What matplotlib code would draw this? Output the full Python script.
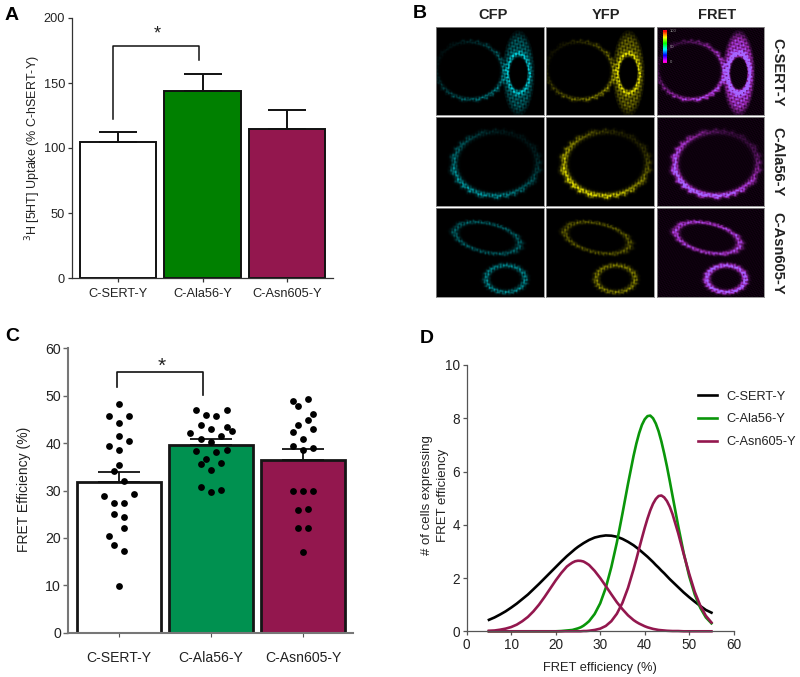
import numpy as np
import matplotlib
matplotlib.use('Agg')
import matplotlib.pyplot as plt

plt.rcParams['font.family'] = ['Liberation Sans', 'DejaVu Sans']
plt.rcParams['text.color'] = '#222222'
plt.rcParams['axes.labelcolor'] = '#222222'
plt.rcParams['xtick.labelcolor'] = '#222222'
plt.rcParams['ytick.labelcolor'] = '#222222'

W, H = 800, 677

names = ['C-SERT-Y', 'C-Ala56-Y', 'C-Asn605-Y']

# panel A
uptake = [105, 144, 115]
uptake_err = [7, 13, 14]
uptake_ticks = [0, 50, 100, 150, 200]

# panel C
fret_mean = [31.7, 39.7, 36.5]
fret_err = [2.3, 1.1, 2.2]
fret_ticks = [0, 10, 20, 30, 40, 50, 60]
sert_off = [0, -.112, .112, 0, 0, .112, -.112, 0, 0, -.056, .056, .168, -.168, -.056, .056, -.056, .056, .056, -.112, -.056, .056, 0]
sert_val = [48.25, 45.65, 45.65, 44.3, 41.6, 40.5, 39.3, 38.5, 35.45, 34.1, 31.9, 29.3, 28.8, 27.4, 27.4, 25.0, 24.5, 22.0, 20.5, 18.5, 17.2, 9.85]
ala_off = [-.167, .17, -.054, .058, -.112, .17, 0, .225, -.225, .112, -.112, 0, -.167, .17, .058, -.054, -.112, .112, 0, -.112, .112, 0]
ala_val = [47.05, 47.05, 45.85, 45.65, 43.8, 43.5, 43.0, 42.55, 42.1, 41.4, 40.8, 40.3, 38.3, 38.5, 38.05, 36.65, 35.65, 35.7, 34.4, 30.8, 30.2, 29.6]
asn_off = [-.112, -.056, .056, .112, .056, -.056, .112, -.112, 0, -.112, 0, .112, -.112, 0, .112, -.056, .056, -.056, .056, 0]
asn_val = [48.8, 47.8, 49.4, 46.2, 44.9, 43.75, 43.05, 42.3, 40.9, 39.4, 38.55, 38.9, 30.0, 29.9, 30.0, 25.8, 26.2, 22.1, 22.0, 17.1]

# panel D
eff = [5, 6.25, 7.5, 8.75, 10, 11.25, 12.5, 13.75, 15, 16.25, 17.5, 18.75, 20, 21.25,
       22.5, 23.125, 23.75, 24.375, 25, 25.625, 26.25, 26.875, 27.5, 28.75, 30, 31.25, 32.5, 33.75, 35, 36.25, 37.5, 38.125, 38.75, 39.375,
       40, 40.625, 41.25, 41.875, 42.5, 43.125, 43.75, 44.375, 45, 45.625, 46.25, 47.5, 48.75, 50, 51.25, 52.5, 53.75, 55]
sert_curve = [.43, .52, .63, .75, .89, 1.04, 1.21, 1.38, 1.58, 1.78, 1.99, 2.20, 2.41, 2.62,
              2.82, 2.91, 3.0, 3.09, 3.17, 3.24, 3.31, 3.37, 3.43, 3.52, 3.57, 3.6, 3.59, 3.55, 3.47, 3.36, 3.23, 3.15, 3.07, 2.98,
              2.89, 2.80, 2.70, 2.60, 2.49, 2.39, 2.28, 2.18, 2.07, 1.96, 1.86, 1.66, 1.46, 1.28, 1.11, .95, .80, .70]
ala_curve = [0, 0, 0, 0, 0, 0, 0, 0, 0, 0, 0, 0, 0, .01,
             .03, .04, .05, .08, .11, .15, .21, .29, .38, .65, 1.05, 1.63, 2.41, 3.34, 4.42, 5.54, 6.59, 7.05, 7.44, 7.75,
             7.96, 8.08, 8.1, 8.0, 7.8, 7.51, 7.13, 6.68, 6.19, 5.65, 5.09, 3.98, 2.95, 2.07, 1.38, .88, .52, .30]
asn_low = [.02, .03, .06, .10, .16, .25, .38, .54, .75, 1.0, 1.29, 1.60, 1.91, 2.19,
           2.43, 2.51, 2.58, 2.63, 2.65, 2.645, 2.62, 2.56, 2.49, 2.27, 2.0, 1.70, 1.39, 1.09, .83, .60, .42, .35, .29, .24,
           .19, .15, .12, .09, .07, .05, .04, .03, .02, .015, .01, .01, 0, 0, 0, 0, 0, 0]
asn_high = [0, 0, 0, 0, 0, 0, 0, 0, 0, 0, 0, 0, 0, 0,
            0, 0, 0, 0, 0, 0, .01, .01, .02, .05, .10, .20, .38, .66, 1.07, 1.63, 2.33, 2.71, 3.11, 3.50,
            3.88, 4.23, 4.54, 4.79, 4.97, 5.08, 5.1, 5.03, 4.89, 4.68, 4.40, 3.70, 2.91, 2.16, 1.48, .96, .58, .33]

# panel B, cell outlines: row, cx, cy, rx, ry, tilt, ring width, brightness, brighter side
cells = [
    (0, .31, .49, .31, .33, -15, .07, .70, 50),
    (0, .76, .52, .10, .22, 0, .16, .85, None),
    (1, .55, .52, .39, .36, -5, .08, 1.05, 130),
    (2, .47, .33, .31, .16, 17, .11, .75, None),
    (2, .64, .79, .18, .15, 0, .16, 1.05, None),
]
# cytoplasm of the right hand cell in the top row: cx, cy, rx, ry, nucleus rx, nucleus ry
body = (.76, .52, .155, .50, .085, .195)
channels = ['CFP', 'YFP', 'FRET']
channel_rgb = [(0, .78, .82), (.88, .86, 0), (.88, .25, 1.0)]
channel_gain = [[.8, .7, .7], [.8, 1.0, .6], [1.5, 1.4, 1.4]]


def px_axes(left, top, right, bottom):
    return fig.add_axes([left / W, 1 - bottom / H, (right - left) / W, (bottom - top) / H])


def cell_image(row, col):
    yy, xx = np.mgrid[0:88, 0:108]
    u = xx / 108.0
    v = yy / 88.0
    a = np.zeros(u.shape)
    for c in cells:
        if c[0] != row:
            continue
        t = np.radians(c[5])
        du = (u - c[1]) * np.cos(t) + (v - c[2]) * np.sin(t)
        dv = -(u - c[1]) * np.sin(t) + (v - c[2]) * np.cos(t)
        r = np.sqrt((du / c[3]) ** 2 + (dv / c[4]) ** 2)
        ang = np.arctan2(dv, du)
        # little spikes on the membrane
        r = r - .03 * np.sin(ang * 23 + 2 * np.sin(ang * 5)) * (r > 1)
        amp = c[7] * np.exp(-((r - 1) / c[6]) ** 2)
        if c[8] is not None:
            amp = amp * (.65 + .5 * np.cos(ang - np.radians(c[8])))
        a = a + amp
    if row == 0:
        bx = (u - body[0]) / body[2]
        by = (v - body[1]) / body[3]
        outer = np.clip((1 - np.sqrt(bx ** 2 + by ** 2)) / .25, 0, 1)
        hole = np.sqrt(((u - body[0]) / body[4]) ** 2 + ((v - body[1]) / body[5]) ** 2)
        a = a + .6 * outer * np.clip((hole - .9) / .25, 0, 1)
        a = a * np.clip((hole - .75) / .3, .05, 1)
    # grainy look of the confocal images, blobs of a few pixels
    lumps = (np.sin(.83 * xx + 1.37 * yy) + np.sin(1.71 * xx - .59 * yy + 1)
             + np.sin(.47 * xx - 1.93 * yy + 2) + np.sin(2.23 * xx + .31 * yy + 4))
    lumps = .68 + .13 * lumps
    a = np.clip(a * lumps * channel_gain[col][row], 0, 1)
    rgb = np.zeros(a.shape + (3,))
    for k in range(3):
        rgb[:, :, k] = a * channel_rgb[col][k]
    if col == 2:
        # FRET panels carry a faint speckled background and blue in the bright bits
        speck = .05 * (1 + np.sin(1.37 * xx + 2.11 * yy) * np.sin(2.57 * xx - .73 * yy + 1))
        rgb[:, :, 0] += speck
        rgb[:, :, 2] += speck
        rgb[:, :, 0] -= .7 * np.clip(a - .6, 0, 1)
        rgb[:, :, 1] += .5 * np.clip(a - .7, 0, 1)
    return np.clip(rgb, 0, 1)


fig = plt.figure(figsize=(W / 100, H / 100), dpi=100)

# ---- A
ax = px_axes(72, 18, 333, 278)
pos = np.arange(3)
ax.set_xlim((72 - 118) / 84.5, (333 - 118) / 84.5)
ax.set_ylim(0, 200)
ax.bar(pos, uptake, width=.9, color=['white', '#008000', '#93174e'], edgecolor='#111111', linewidth=1.4,
       yerr=[[0, 0, 0], uptake_err], capsize=14, error_kw={'elinewidth': 1.4, 'capthick': 1.4, 'ecolor': '#111111'})
ax.set_xticks(pos)
ax.set_xticklabels(names)
ax.set_yticks(uptake_ticks)
ax.tick_params(axis='y', labelsize=9.2, length=3, width=.9, color='#333333', pad=2)
ax.tick_params(axis='x', labelsize=9.2, length=3, width=.9, color='#333333', pad=4)
ax.set_ylabel('$^{3}$H [5HT] Uptake (% C-hSERT-Y)', fontsize=9)
ax.yaxis.set_label_coords((43 - 72) / 261.0, .5)
for s in ['top', 'right']:
    ax.spines[s].set_visible(False)
for s in ['left', 'bottom']:
    ax.spines[s].set_color('#333333')
    ax.spines[s].set_linewidth(.9)
ax.plot([-.055, -.055, .96, .96], [122, 178.5, 178.5, 168], color='#111111', lw=1.1, clip_on=False)
ax.text(.47, 188, '*', fontsize=13, ha='center', va='center')

# ---- B
col_px = [(436, 544), (546, 654), (657, 764)]
row_px = [(27, 115), (117, 206), (208, 297)]
for i, r in enumerate(row_px):
    for j, c in enumerate(col_px):
        ia = px_axes(c[0], r[0], c[1], r[1])
        ia.imshow(cell_image(i, j), aspect='auto', interpolation='bilinear')
        ia.set_xticks([])
        ia.set_yticks([])
        for s in ia.spines.values():
            s.set_color('#888888')
            s.set_linewidth(.6)
for name, x in zip(channels, [493, 606, 717]):
    fig.text(x / W, 1 - 15 / H, name, fontsize=10.5, fontweight='bold', ha='center', va='center')
for name, y in zip(names, [72, 162, 253]):
    fig.text(777 / W, 1 - y / H, name, fontsize=10.5, fontweight='bold', ha='center', va='center', rotation=-90)

bar_ax = px_axes(663, 30, 667, 63)
bar_ax.imshow(np.linspace(0, 1, 64)[:, None], cmap='gist_rainbow', aspect='auto')
bar_ax.axis('off')
for lab, y in zip(['100', '50', '0'], [31, 47, 62]):
    fig.text(670 / W, 1 - y / H, lab, fontsize=3, color='#999999', va='center')

# ---- C
ax = px_axes(68, 348.3, 353, 632.7)
ax.set_xlim((68 - 119) / 92.0, (353 - 119) / 92.0)
ax.set_ylim(0, 60)
ax.bar(pos, fret_mean, width=.91, color=['white', '#009150', '#93174e'], edgecolor='#151515', linewidth=2.0,
       yerr=[[0, 0, 0], fret_err], capsize=15, error_kw={'elinewidth': 1.3, 'capthick': 1.3, 'ecolor': '#111111'})
for p, off, val in zip(pos, [sert_off, ala_off, asn_off], [sert_val, ala_val, asn_val]):
    ax.scatter(p + np.array(off), val, s=24, color='black', zorder=5, linewidths=0)
ax.set_xticks(pos)
ax.set_xticklabels(names)
ax.set_yticks(fret_ticks)
ax.tick_params(axis='y', labelsize=10.2, length=3.5, width=1, color='#666666', pad=1.5)
ax.tick_params(axis='x', labelsize=10.1, length=3, width=.8, color='#555555', pad=10)
ax.set_ylabel('FRET Efficiency (%)', fontsize=10)
ax.yaxis.set_label_coords((31 - 68) / 285.0, .505)
for s in ['top', 'right']:
    ax.spines[s].set_visible(False)
for s in ['left', 'bottom']:
    ax.spines[s].set_color('#777777')
    ax.spines[s].set_linewidth(1.5)
ax.plot([-.025, -.025, .913, .913], [51.9, 55.06, 55.06, 50.15], color='#111111', lw=1.2, clip_on=False)
ax.text(.465, 56.3, '*', fontsize=15, ha='center', va='center')

# ---- D
ax = px_axes(466.7, 365, 733.7, 631.3)
ax.set_xlim(0, 60)
ax.set_ylim(0, 10)
ax.plot(eff, sert_curve, color='black', lw=1.9, label=names[0], clip_on=False)
ax.plot(eff, ala_curve, color='#0a960a', lw=1.9, label=names[1], clip_on=False)
ax.plot(eff, asn_low, color='#93174e', lw=1.9, label=names[2], clip_on=False)
ax.plot(eff, asn_high, color='#93174e', lw=1.9, clip_on=False)
ax.set_xticks(range(0, 61, 10))
ax.set_yticks(range(0, 11, 2))
ax.tick_params(labelsize=9.8, length=3, width=.9, color='#555555', pad=2)
ax.set_xlabel('FRET efficiency (%)', fontsize=9.3)
ax.xaxis.set_label_coords(.5, -.115)
ax.set_ylabel('# of cells expressing\nFRET efficiency', fontsize=9.5, linespacing=1.45)
ax.yaxis.set_label_coords((449 - 466.7) / 267.0, .51)
for s in ['top', 'right']:
    ax.spines[s].set_visible(False)
for s in ['left', 'bottom']:
    ax.spines[s].set_color('#555555')
    ax.spines[s].set_linewidth(.9)
ax.legend(loc='upper left', bbox_to_anchor=(.866, .904), frameon=False, fontsize=9.2, handlelength=1.5,
          handletextpad=.7, labelspacing=.85, borderpad=0, borderaxespad=0)

# panel letters
for lab, x, y in [('A', 12, 15), ('B', 420, 14), ('C', 12, 337), ('D', 427, 338)]:
    fig.text(x / W, 1 - y / H, lab, fontsize=14, fontweight='bold', color='black', ha='center', va='center')

fig.savefig('out.png', dpi=100)
